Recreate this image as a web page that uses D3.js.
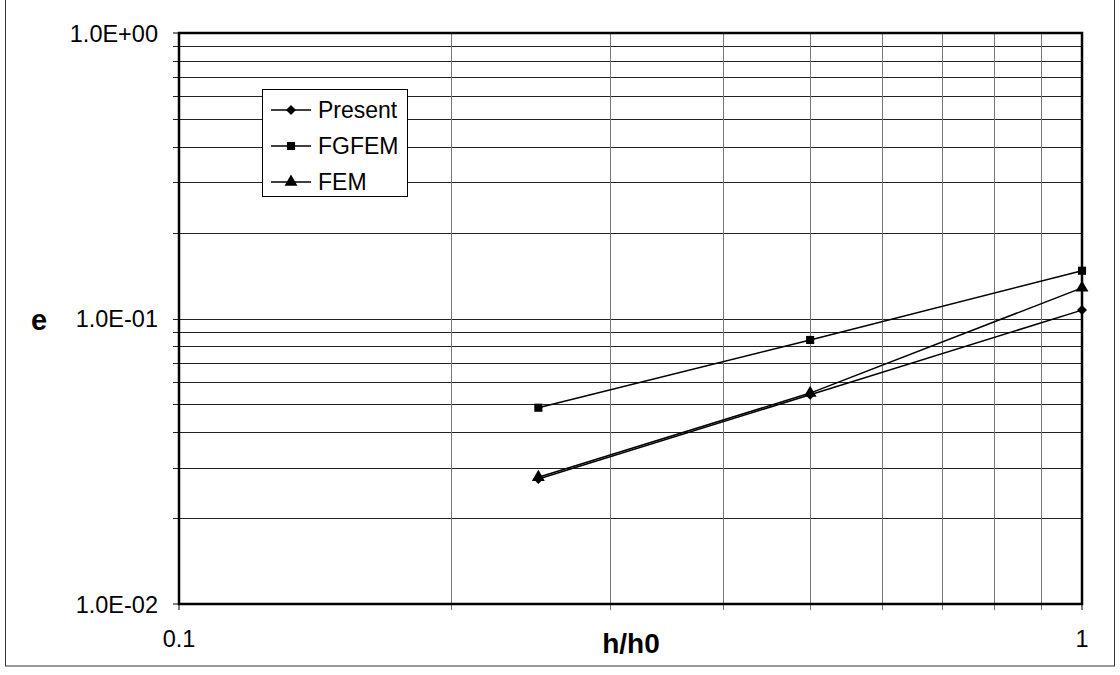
<!DOCTYPE html>
<html><head><meta charset="utf-8">
<script src="https://cdn.jsdelivr.net/npm/d3@7"></script>
<style>body{margin:0;background:#fff}svg{display:block}text{font-family:"Liberation Sans",Arial,sans-serif}</style>
</head><body><svg id="c" width="1120" height="675"></svg>
<script>
const xValues = [0.25, 0.5, 1];
const presentValues = [0.0274, 0.0541, 0.107];
const fgfemValues = [0.0487, 0.0841, 0.147];
const femValues = [0.0278, 0.0548, 0.128];
const seriesNames = ["Present", "FGFEM", "FEM"];
const yTickLabels = ["1.0E-02", "1.0E-01", "1.0E+00"];
const xTickLabels = ["0.1", "1"];

const svg = d3.select("#c");
const L = 179, R = 1082, T = 33, B = 604;
const x = d3.scaleLog().domain([0.1, 1]).range([L, R]);
const y = d3.scaleLog().domain([0.01, 1]).range([B, T]);

// outer frame
svg.append("rect").attr("x", 5.5).attr("y", -2).attr("width", 1109).attr("height", 668)
  .attr("fill", "none").attr("stroke", "#333").attr("stroke-width", 1);

// gridlines
const yMinor = [];
[0.01, 0.1].forEach(d => { for (let k = 2; k <= 9; k++) yMinor.push(d * k); });
const xMinor = [];
for (let k = 2; k <= 9; k++) xMinor.push(0.1 * k);

const g = svg.append("g");
g.selectAll(".hg").data(yMinor.concat([0.1])).join("line")
  .attr("x1", L - 6).attr("x2", R).attr("y1", d => Math.round(y(d)) + 0.5).attr("y2", d => Math.round(y(d)) + 0.5)
  .attr("stroke", "#222").attr("stroke-width", 1);
g.selectAll(".vg").data(xMinor).join("line")
  .attr("y1", T).attr("y2", B + 6).attr("x1", d => Math.round(x(d)) + 0.5).attr("x2", d => Math.round(x(d)) + 0.5)
  .attr("stroke", "#777").attr("stroke-width", 1);
[0.01, 1].forEach(d => g.append("line").attr("x1", L - 6).attr("x2", L).attr("y1", y(d)).attr("y2", y(d)).attr("stroke", "#000"));
[0.1, 1].forEach(d => g.append("line").attr("y1", B).attr("y2", B + 6).attr("x1", x(d)).attr("x2", x(d)).attr("stroke", "#000"));

// plot border
svg.append("rect").attr("x", L).attr("y", T).attr("width", R - L).attr("height", B - T)
  .attr("fill", "none").attr("stroke", "#000").attr("stroke-width", 2.5);

// tick labels
[0.01, 0.1, 1].forEach((d, i) => svg.append("text").attr("x", 158).attr("y", y(d) + 8.5)
  .attr("text-anchor", "end").attr("font-size", 23.5).text(yTickLabels[i]));
[0.1, 1].forEach((d, i) => svg.append("text").attr("x", x(d)).attr("y", 647)
  .attr("text-anchor", "middle").attr("font-size", 23.5).text(xTickLabels[i]));

// axis titles
svg.append("text").attr("x", 39).attr("y", 330).attr("text-anchor", "middle").attr("font-size", 29)
  .attr("font-weight", "bold").text("e");
svg.append("text").attr("x", 631).attr("y", 653).attr("text-anchor", "middle").attr("font-size", 28)
  .attr("font-weight", "bold").text("h/h0");

// series
const series = [
  { name: seriesNames[0], vals: presentValues, sym: d3.symbolSquare, size: 50, rot: 45 },
  { name: seriesNames[1], vals: fgfemValues, sym: d3.symbolSquare, size: 66, rot: 0 },
  { name: seriesNames[2], vals: femValues, sym: d3.symbolTriangle, size: 72, rot: 0 }
];
const line = d3.line().x(d => x(d[0])).y(d => y(d[1]));
series.forEach(s => {
  const pts = xValues.map((xv, i) => [xv, s.vals[i]]);
  svg.append("path").attr("d", line(pts)).attr("fill", "none").attr("stroke", "#000").attr("stroke-width", 1.5);
  svg.selectAll(null).data(pts).join("path")
    .attr("transform", d => `translate(${x(d[0])},${y(d[1])}) rotate(${s.rot})`)
    .attr("d", d3.symbol().type(s.sym).size(s.size)).attr("fill", "#000");
});

// legend
const lg = svg.append("g");
lg.append("rect").attr("x", 262.5).attr("y", 89.5).attr("width", 145).attr("height", 107)
  .attr("fill", "#fff").attr("stroke", "#000").attr("stroke-width", 1);
series.forEach((s, i) => {
  const yy = 110 + i * 36;
  lg.append("line").attr("x1", 271).attr("x2", 311).attr("y1", yy).attr("y2", yy).attr("stroke", "#000").attr("stroke-width", 1.5);
  lg.append("path").attr("transform", `translate(291,${yy}) rotate(${s.rot})`).attr("d", d3.symbol().type(s.sym).size(s.size)).attr("fill", "#000");
  lg.append("text").attr("x", 318).attr("y", yy + 8).attr("font-size", 23).text(s.name);
});
</script></body></html>
